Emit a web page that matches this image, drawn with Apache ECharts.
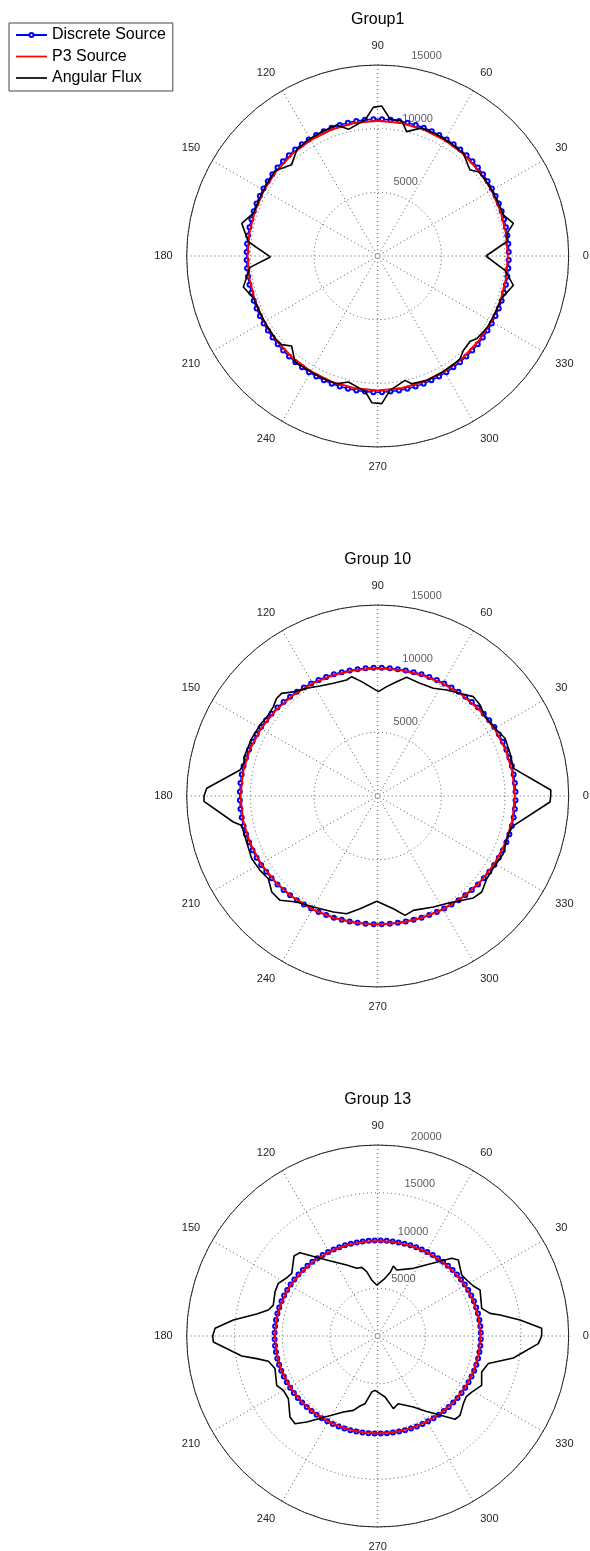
<!DOCTYPE html>
<html><head><meta charset="utf-8">
<script src="https://cdn.jsdelivr.net/npm/echarts@6/dist/echarts.min.js"></script>
<style>html,body{margin:0;padding:0;background:#fff}#c{width:590px;height:1551px}</style>
</head><body><div id="c"></div>
<script>
// ---------- DATA ----------
const titles = ['Group1', 'Group 10', 'Group 13'];
const seriesNames = ['Discrete Source', 'P3 Source', 'Angular Flux'];
const radialMax = [15000, 15000, 20000];
const radialTicks1 = [5000, 10000, 15000];
const radialTicks10 = [5000, 10000, 15000];
const radialTicks13 = [5000, 10000, 15000, 20000];

// sample directions (degrees)
const discreteAngles = [];
for (let k = 0; k < 100; k++) discreteAngles.push(+(1.8 + 3.6 * k).toFixed(1));
const p3Angles = [];
for (let a = 0; a <= 360; a += 10) p3Angles.push(a);

// Discrete Source (blue markers)
const discrete1 = [
10300,10305,10310,10320,10335,10350,10370,10395,10415,10440,10470,10495,10525,10555,10580,10610,10635,10655,10680,10700,10715,10730,10740,10745,10750,
10750,10745,10740,10730,10715,10700,10680,10655,10635,10610,10580,10555,10525,10495,10470,10440,10415,10395,10370,10350,10335,10320,10310,10305,10300,
10300,10304,10310,10319,10331,10346,10363,10382,10404,10426,10450,10475,10500,10525,10550,10574,10596,10618,10637,10654,10669,10681,10690,10696,10700,
10700,10696,10690,10681,10669,10654,10637,10618,10596,10574,10550,10525,10500,10475,10450,10426,10404,10382,10363,10346,10331,10319,10310,10304,10300];
const discrete10 = [
10830,10823,10812,10794,10771,10743,10710,10673,10633,10590,10544,10498,10450,10402,10356,10310,10267,10227,10190,10157,10129,10106,10088,10077,10071,
10071,10077,10088,10106,10129,10157,10190,10227,10267,10310,10356,10402,10450,10498,10544,10590,10633,10673,10710,10743,10771,10794,10812,10823,10830,
10830,10823,10812,10794,10771,10743,10710,10673,10633,10590,10544,10498,10450,10402,10356,10310,10267,10227,10190,10157,10129,10106,10088,10077,10071,
10071,10077,10088,10106,10129,10157,10190,10227,10267,10310,10356,10402,10450,10498,10544,10590,10633,10673,10710,10743,10771,10794,10812,10823,10830];
const discrete13 = [
10799,10793,10781,10762,10738,10708,10674,10635,10593,10547,10499,10450,10400,10350,10301,10253,10207,10165,10126,10092,10062,10038,10019,10007,10001,
10001,10007,10019,10038,10062,10092,10126,10165,10207,10253,10301,10350,10400,10450,10499,10547,10593,10635,10674,10708,10738,10762,10781,10793,10799,
10799,10795,10786,10772,10755,10733,10708,10681,10650,10617,10582,10547,10510,10473,10438,10403,10370,10339,10312,10287,10265,10248,10234,10225,10221,
10221,10225,10234,10248,10265,10287,10312,10339,10370,10403,10438,10473,10510,10547,10582,10617,10650,10681,10708,10733,10755,10772,10786,10795,10799];

// P3 Source (red curve), every 10 degrees from 0 to 360
const p3_1 = [10220,10232,10267,10320,10385,10455,10520,10573,10608,10620,10608,10573,10520,10455,10385,10320,10267,10232,
10220,10230,10260,10305,10360,10420,10475,10520,10550,10560,10550,10520,10475,10420,10360,10305,10260,10230,10220];
const p3_10 = [10770,10748,10683,10585,10464,10336,10215,10117,10052,10030,10052,10117,10215,10336,10464,10585,10683,10748,
10770,10750,10692,10602,10493,10377,10267,10178,10120,10100,10120,10178,10267,10377,10493,10602,10692,10750,10770];
const p3_13 = [10760,10736,10666,10560,10430,10290,10160,10054,9984,9960,9984,10054,10160,10290,10430,10560,10666,10736,
10760,10743,10694,10620,10529,10431,10340,10266,10217,10200,10217,10266,10340,10431,10529,10620,10694,10743,10760];

// Angular Flux (black), [angle, value]
const flux1 = [[0,8500],[6.5,10250],[10,10330],[13.5,10960],[18,10400],[24,10340],[31,10350],[36,10360],[39.9,10320],[43,9910],
[50.2,10500],[57,10560],[64,10620],[71,10640],[76.9,10030],[79.9,10790],[84.8,10780],[88.5,11790],[91.7,11680],[95.3,10730],
[103,10210],[107.4,10780],[114,10700],[121,10620],[127,10520],[133.4,9850],[140.3,10480],[147,10380],[154,10330],[161,10320],
[166.5,10980],[173.7,10220],[180.5,8430],[185.1,10070],[193,10830],[199,10280],[206,10270],[213,10300],[219,10330],[222.7,10260],
[226.3,9780],[232,10560],[239,10500],[246,10540],[252,10560],[256.9,10160],[264.7,10680],[267.7,11530],[271.6,11600],[275.2,10600],
[282.4,10000],[284.9,10380],[292,10500],[299,10440],[305,10380],[308.7,10340],[312.2,10010],[317.3,9880],[320.1,10130],[327,10280],
[334,10250],[341,10280],[347.8,10900],[353.6,10060],[360,8500]];
const flux10 = [[0,13590],[2,13600],[11.5,10880],[17.9,10920],[24.4,10980],[29,10690],[36.5,10480],[41.6,10760],[46.1,10830],[48.6,10570],
[56.9,9930],[62.7,9520],[69.4,9450],[76.3,9600],[80.6,9100],[85.3,8620],[89.6,8200],[94,8610],[98,9070],[102.3,9590],
[105,9430],[111.5,9510],[117.7,9760],[123.4,10130],[128.4,10460],[133.1,11040],[136,11040],[139.4,10790],[143.5,10690],[148.9,10790],
[155.4,10880],[162.8,10910],[167,10830],[169.3,11000],[177.4,13440],[180,13640],[181.8,13650],[190.2,11520],[192.2,10930],[199.3,10910],
[206.4,11050],[212.3,10930],[217.1,10770],[222.2,11230],[226.9,11220],[232.6,10480],[239.9,10080],[249.1,9750],[255.2,9560],[261.1,8960],
[269.5,8270],[277.9,8940],[282.9,9620],[287.3,9410],[296.6,9750],[302.7,10040],[313.2,10980],[317.3,11120],[322.8,10750],[329.4,10710],
[335.4,10860],[341.7,10670],[347,10800],[358,13540],[360,13590]];
const flux13 = [[0,17170],[2.7,17190],[3.3,17030],[6.4,15000],[9.7,13000],[11.4,12000],[14.9,11270],[24.2,11750],[27.6,11300],[32.2,11010],
[36,10870],[43.3,11600],[46.4,11230],[62.2,8010],[73.9,7190],[77.4,7510],[78.6,6870],[82.8,6090],[91.1,5340],[96.1,5900],
[99.7,6830],[103.1,7380],[107.2,7420],[113.6,8110],[120.8,9060],[126.6,10130],[133,11930],[136.3,12120],[143.9,11140],[147.8,11340],
[152.1,11770],[156.6,11710],[163.5,11400],[166.6,11770],[169.7,12880],[173.7,15210],[177.3,17050],[180,17280],[182.1,17220],[188.4,14390],
[190.6,12890],[193,11750],[197.6,11280],[206,11770],[209.9,11400],[215.1,11430],[222.7,12500],[226.7,12620],[230.5,11680],[245.7,8730],
[251.9,8190],[255.8,7560],[259.4,7210],[263.9,5900],[267.2,5700],[272.3,6040],[276.9,6430],[282.2,7780],[287,7410],[296.7,8320],
[302.3,9290],[312.9,11900],[316.1,11970],[321.7,11430],[325.4,11240],[329.2,11460],[334.6,12050],[340.9,11520],[346,11940],[350.8,14390],
[357.3,16840],[360,17170]];

// ---------- BUILD ----------
const FONT = 'Liberation Sans, Arial, Helvetica, sans-serif';
const centersY = [256, 796, 1336];
const titleTops = [12, 552, 1092];
const discrete = [discrete1, discrete10, discrete13];
const p3 = [p3_1, p3_10, p3_13];
const flux = [flux1, flux10, flux13];
const rTicks = [radialTicks1, radialTicks10, radialTicks13];
const GRID = { color: '#555', width: 1, type: [1, 3] };
const LINE_ICON = 'path://M0,0H31V1.7H0Z';

const polar = [], angleAxis = [], radiusAxis = [], series = [], title = [];
for (let i = 0; i < 3; i++) {
  polar.push({ center: [377.7, centersY[i]], radius: 191 });
  title.push({ text: titles[i], left: 377.7, top: titleTops[i], textAlign: 'center', padding: 0,
    textStyle: { fontFamily: FONT, fontSize: 16, fontWeight: 'normal', color: '#000' } });
  angleAxis.push({
    polarIndex: i, type: 'value', min: 0, max: 360, interval: 30, startAngle: 0, clockwise: false,
    axisLine: { show: true, lineStyle: { color: '#222', width: 1 } },
    axisTick: { show: false },
    axisLabel: { margin: 14, color: '#222', fontSize: 11, fontFamily: FONT,
      formatter: v => (v === 360 ? '' : String(v)) },
    splitLine: { show: true, lineStyle: GRID }
  });
  radiusAxis.push({
    polarIndex: i, type: 'value', min: 0, max: radialMax[i], interval: 5000,
    axisLine: { show: false }, axisTick: { show: false }, axisLabel: { show: false },
    splitLine: { show: true, lineStyle: GRID }
  });
  series.push({
    type: 'line', name: seriesNames[0], coordinateSystem: 'polar', polarIndex: i,
    data: discreteAngles.map((a, k) => [discrete[i][k], a]),
    symbol: 'emptyCircle', symbolSize: 4, showSymbol: true, clip: false,
    lineStyle: { color: '#0000ff', width: 1.5 },
    itemStyle: { color: '#0000ff', borderWidth: 1.2 }, z: 2
  });
  series.push({
    type: 'line', name: seriesNames[1], coordinateSystem: 'polar', polarIndex: i,
    data: p3Angles.map((a, k) => [p3[i][k], a]),
    symbol: 'none', clip: false,
    lineStyle: { color: '#ff0000', width: 2 }, itemStyle: { color: '#ff0000' }, z: 3
  });
  series.push({
    type: 'line', name: seriesNames[2], coordinateSystem: 'polar', polarIndex: i,
    data: flux[i].map(p => [p[1], p[0]]),
    symbol: 'none', clip: false,
    lineStyle: { color: '#000000', width: 1.6 }, itemStyle: { color: '#000000' }, z: 4
  });
  series.push({
    type: 'scatter', coordinateSystem: 'polar', polarIndex: i, silent: true, clip: false,
    symbolSize: 1, itemStyle: { color: 'rgba(0,0,0,0)' },
    data: rTicks[i].map(t => ({ name: String(t), value: [t + 250, 82] })),
    label: { show: true, position: 'right', distance: 6, offset: [0, -7.5], formatter: '{b}',
      color: '#333', fontSize: 11, fontFamily: FONT },
    z: 5
  });
}

const chart = echarts.init(document.getElementById('c'), null, { renderer: 'canvas' });
chart.setOption({
  animation: false,
  backgroundColor: '#fff',
  title: title,
  legend: {
    data: [
      { name: seriesNames[0] },
      { name: seriesNames[1], icon: LINE_ICON },
      { name: seriesNames[2], icon: LINE_ICON }
    ],
    orient: 'vertical', left: 9, top: 23, symbolKeepAspect: true,
    padding: [4, 7, 5, 6], itemGap: 5.5, itemWidth: 31, itemHeight: 5,
    borderColor: '#444', borderWidth: 1, backgroundColor: '#fff', selectedMode: false,
    textStyle: { fontFamily: FONT, fontSize: 16, lineHeight: 14.5, color: '#000' }
  },
  polar: polar,
  angleAxis: angleAxis,
  radiusAxis: radiusAxis,
  series: series
});
</script></body></html>
